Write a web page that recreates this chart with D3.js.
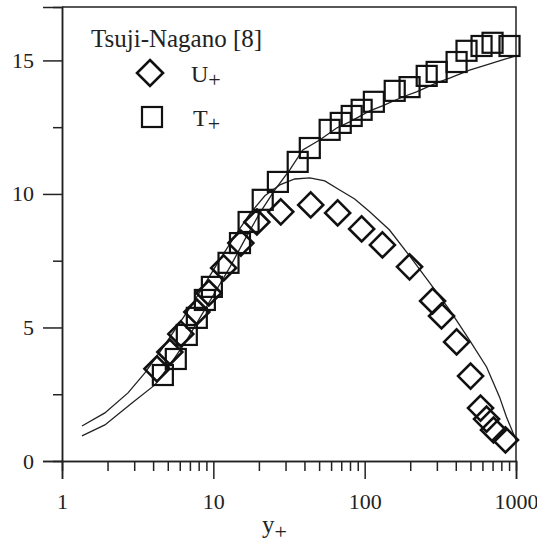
<!DOCTYPE html>
<html><head><meta charset="utf-8">
<script src="https://cdn.jsdelivr.net/npm/d3@7"></script>
<style>body{margin:0;background:#fff}svg{display:block}</style>
</head><body><svg id="c" width="537" height="549"></svg>
<script>
// Tsuji-Nagano [8] data: U+ (diamonds)
const uX = [4.24,5.16,6.1,7.78,9.34,11.7,15.2,19.4,27.9,44,66.3,95.5,131,198,281,322,405,501,583,639,710,852];
const uY = [3.45,4.08,4.76,5.58,6.29,7.23,8.16,8.95,9.33,9.59,9.29,8.69,8.09,7.27,5.99,5.43,4.46,3.18,1.98,1.57,1.16,0.79];
// T+ (squares)
const tX = [4.64,5.65,6.68,7.78,8.79,9.78,12.6,15.0,17.1,21.2,26.7,36.1,43.4,58.7,69.5,82.1,95.5,115,158,198,257,299,405,471,592,700,906];
const tY = [3.22,3.82,4.72,5.36,6.03,6.52,7.42,8.16,8.95,9.78,10.45,11.2,11.72,12.4,12.66,12.92,13.15,13.45,13.86,14.0,14.42,14.57,14.94,15.36,15.54,15.66,15.54];
// computed U+ profile (line)
const luX = [1.355,1.92,2.73,3.53,4.43,5.57,7.0,8.79,11.0,13.9,17.4,21.9,27.5,34.5,43.4,54.5,68.4,85.9,108,146,198,269,364,493,639,778,865,1000];
const luY = [1.31,1.80,2.55,3.30,4.08,4.91,5.73,6.63,7.53,8.43,9.25,9.93,10.34,10.56,10.60,10.49,10.15,9.81,9.33,8.65,7.68,6.67,5.66,4.53,3.52,2.40,1.65,0.79];
// computed T+ profile (line)
const ltX = [1.355,1.92,2.9,4.11,5.16,6.49,8.15,10.2,12.9,16.1,20.3,25.5,32.0,39.0,50.4,65.3,79.6,108,131,178,220,299,364,493,601,815,1000];
const ltY = [0.94,1.35,2.17,2.85,3.60,4.42,5.36,6.29,7.27,8.28,9.29,10.15,10.9,11.65,12.02,12.47,12.70,13.11,13.30,13.63,13.82,14.16,14.34,14.64,14.79,15.02,15.17];
const yTicks = [0,5,10,15];
const yMinor = [2.5,7.5,12.5];
const xTicks = [1,10,100,1000];

const FONT = "'Liberation Serif', Tinos, 'Times New Roman', 'DejaVu Serif', serif";
const svg = d3.select("#c");
const L=62,R=516,T=7,B=461;
const x = d3.scaleLog().domain([1,1000]).range([L,R]);
const y = d3.scaleLinear().domain([0,17]).range([B,T]);
const ink="#222";

svg.append("path").attr("d",`M${L},${T}H${R}V${B}`).attr("fill","none").attr("stroke",ink).attr("stroke-width",1.5);

svg.append("g").attr("transform",`translate(${L},0)`)
  .call(d3.axisLeft(y).tickValues(yTicks).tickSize(19).tickPadding(9).tickFormat(d3.format("d")));
svg.append("g").attr("transform",`translate(${L},0)`)
  .call(d3.axisLeft(y).tickValues(yMinor).tickSize(9).tickFormat(""));
const xMinor=[];[1,10,100].forEach(b=>{for(let k=2;k<10;k++)xMinor.push(b*k);});
svg.append("g").attr("transform",`translate(0,${B})`)
  .call(d3.axisBottom(x).tickValues(xTicks).tickSize(18).tickPadding(14).tickFormat(d3.format("d")));
svg.append("g").attr("transform",`translate(0,${B})`)
  .call(d3.axisBottom(x).tickValues(xMinor).tickSize(10).tickFormat(""));
svg.selectAll("g").attr("font-family",null);
svg.selectAll("g .domain").attr("stroke",ink).attr("stroke-width",1.5);
svg.selectAll("g .tick line").attr("stroke",ink).attr("stroke-width",1.5);
svg.selectAll("g .tick text").attr("font-size",22).attr("fill",ink).style("font-family",FONT);

const line = d3.line().x(d=>x(d[0])).y(d=>y(d[1]));
svg.append("path").datum(luX.map((v,i)=>[v,luY[i]])).attr("d",line).attr("fill","none").attr("stroke",ink).attr("stroke-width",1.3);
svg.append("path").datum(ltX.map((v,i)=>[v,ltY[i]])).attr("d",line).attr("fill","none").attr("stroke",ink).attr("stroke-width",1.3);

const dia = (cx,cy,r)=>`M${cx},${cy-r}L${cx+r},${cy}L${cx},${cy+r}L${cx-r},${cy}Z`;
svg.append("g").selectAll("path").data(uX.map((v,i)=>[v,uY[i]])).join("path")
  .attr("d",d=>dia(x(d[0]),y(d[1]),12.5)).attr("fill","none").attr("stroke","#111").attr("stroke-width",2.6);
svg.append("g").selectAll("rect").data(tX.map((v,i)=>[v,tY[i]])).join("rect")
  .attr("x",d=>x(d[0])-10).attr("y",d=>y(d[1])-10).attr("width",20).attr("height",20)
  .attr("fill","none").attr("stroke","#111").attr("stroke-width",2.2);

const txt = (xx,yy,fs)=>svg.append("text").attr("x",xx).attr("y",yy).attr("font-size",fs).attr("fill",ink).style("font-family",FONT);
txt(91,47,25).text("Tsuji-Nagano [8]");
svg.append("path").attr("d",dia(150,73,13)).attr("fill","none").attr("stroke","#111").attr("stroke-width",2.6);
svg.append("rect").attr("x",142).attr("y",107).attr("width",20).attr("height",20).attr("fill","none").attr("stroke","#111").attr("stroke-width",2.2);
const lu = txt(191,82,24);
lu.append("tspan").text("U");
lu.append("tspan").attr("dy",5).attr("font-size",22).text("+");
const lt = txt(193,126,24);
lt.append("tspan").text("T");
lt.append("tspan").attr("dy",5).attr("font-size",22).text("+");

const at = txt(262,533,25);
at.append("tspan").text("y");
at.append("tspan").attr("dy",6).attr("font-size",22).text("+");
</script></body></html>
